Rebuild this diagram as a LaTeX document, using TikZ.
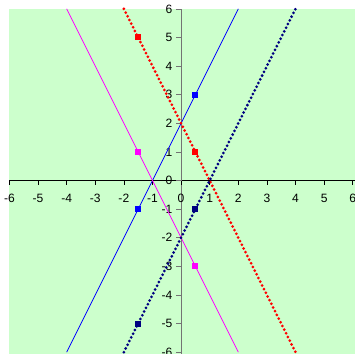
\documentclass[tikz,border=0pt]{standalone}
\usepackage{fontspec}
\setmainfont{Liberation Sans}
\usetikzlibrary{positioning}
\definecolor{plotgreen}{rgb}{0.80,1.00,0.80}
\definecolor{navyline}{rgb}{0.00,0.00,0.50}
\definecolor{pinkline}{rgb}{1.00,0.00,1.00}
\definecolor{blueline}{rgb}{0.00,0.00,1.00}
\definecolor{redline}{rgb}{1.00,0.00,0.00}
\tikzset{
  xlabel/.style={
    anchor=north,
    inner sep=0pt,
    font=\fontsize{12}{14}\selectfont
  },
  ylabel/.style={
    anchor=east,
    inner sep=0pt,
    font=\fontsize{12}{14}\selectfont
  },
  solidline/.style={
    line width=0.8pt
  },
  dotline/.style={
    line width=3pt,
    line cap=round,
    dash pattern=on 0pt off 4.1pt
  },
  marker/.style={
    rectangle,
    inner sep=0pt,
    minimum size=6pt
  }
}

\begin{document}
\begin{tikzpicture}
\useasboundingbox (-6.33,-6.03) rectangle (6.08,6.31);
% plot area
\fill[plotgreen] (-6,-6.2) rectangle (6.2,6);
% axes
\draw[black,line width=0.8pt] (-6,0) -- (6.2,0);
\draw[black!55,line width=0.8pt] (0,-6.2) -- (0,6);
\foreach \i in {-6,...,6} {
  \draw[black,line width=0.6pt] (\i,0) -- (\i,-0.15);
  \node[xlabel] (x\i) at (\i,-0.47) {\i};
}
\foreach \j in {-6,...,6} {
  \draw[black!55,line width=0.6pt] (0,\j) -- (-0.17,\j);
  \node[ylabel] (y\j) at (-0.3,\j) {\j};
}
% lines
\coordinate (b1) at (-4,-6);
\coordinate (b2) at (2,6);
\coordinate (m1) at (-4,6);
\coordinate (m2) at (2,-6);
\coordinate (r1) at (-2,6);
\coordinate (r2) at (4,-6);
\coordinate (n1) at (-2,-6);
\coordinate (n2) at (4,6);
\draw[solidline,blueline] (b1) -- (b2);
\draw[solidline,pinkline] (m1) -- (m2);
\draw[dotline,redline] (r1) -- (r2);
\draw[dotline,navyline] (n1) -- (n2);
% markers
\node[marker,fill=blueline] (pb1) at (-1.5,-1) {};
\node[marker,fill=blueline] (pb2) at (0.5,3) {};
\node[marker,fill=pinkline] (pm1) at (-1.5,1) {};
\node[marker,fill=pinkline] (pm2) at (0.5,-3) {};
\node[marker,fill=redline] (pr1) at (-1.5,5) {};
\node[marker,fill=redline] (pr2) at (0.5,1) {};
\node[marker,fill=navyline] (pn1) at (-1.5,-5) {};
\node[marker,fill=navyline] (pn2) at (0.5,-1) {};
\end{tikzpicture}
\end{document}
